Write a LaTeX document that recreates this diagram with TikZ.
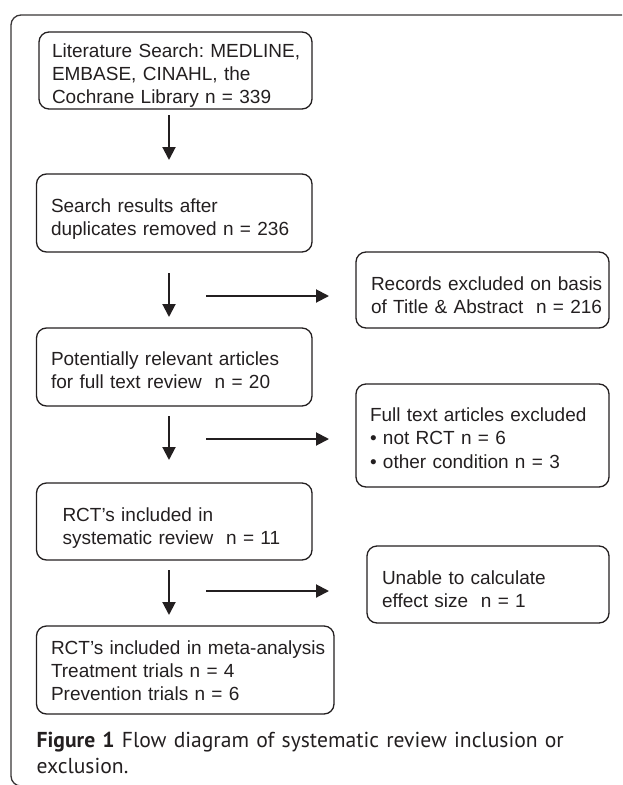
\documentclass[tikz,border=0pt]{standalone}
\usepackage{fontspec}
\setmainfont{Liberation Sans}
\newfontfamily\captionfont{PT Sans}
\usetikzlibrary{arrows.meta}
\frenchspacing

\definecolor{inkgray}{HTML}{231F20}

\tikzset{
  flowbox/.style={draw=inkgray, line width=1.3pt, rounded corners=10pt,
    anchor=north west, align=left, inner xsep=0pt, inner ysep=0pt, outer sep=0pt,
    font=\fontsize{19}{23.3}\selectfont, text=inkgray},
  textindent/.style={execute at begin node={\leftskip=#1}},
  rows/.style 2 args={text height=#1, text depth=#2},
  flowarrow/.style={draw=inkgray, line width=2pt,
    -{Triangle[length=13pt,width=13pt]}}
}

\begin{document}
\begin{tikzpicture}[x=1pt, y=-1pt]
  \useasboundingbox (0,0) rectangle (622,785);

  % outer frame, cut by the page edge
  \begin{scope}
    \clip (0,0) rectangle (622,785);
    \draw[inkgray!90, line width=1.3pt, rounded corners=10pt] (11,15) rectangle (660,786);
  \end{scope}

  % main column
  \node[flowbox, textindent=13pt, text width=273pt, rows={25pt}{52pt}] (lit) at (39,32)
    {Literature Search: MEDLINE,\\EMBASE, CINAHL, the\\Cochrane Library n = 339};
  \node[flowbox, textindent=14.5pt, text width=275.5pt, rows={38.5pt}{39.5pt}] (dedup) at (36.5,174)
    {Search results after\\duplicates removed n = 236};
  \node[flowbox, textindent=14.5pt, text width=275.5pt, rows={37.5pt}{40.5pt}] (relevant) at (36.5,328)
    {Potentially relevant articles\\for full text review~ n = 20};
  \node[flowbox, textindent=26pt, text width=275.5pt, rows={38.5pt}{38.5pt}] (included) at (36.5,483)
    {RCT’s included in\\systematic review~ n = 11};
  \node[flowbox, textindent=14.5pt, text width=297.5pt, rows={28pt}{60pt}] (meta) at (36.5,626)
    {RCT’s included in meta-analysis\\Treatment trials n = 4\\Prevention trials n = 6};

  % excluded
  \node[flowbox, textindent=15pt, text width=253pt, rows={38pt}{38pt}] (recx) at (356,252)
    {Records excluded on basis\\of Title \& Abstract~ n = 216};
  \node[flowbox, textindent=14pt, text width=253pt, rows={37.5pt}{65.5pt}] (fullx) at (356,384)
    {Full text articles excluded\\• not RCT n = 6\\• other condition n = 3};
  \node[flowbox, textindent=15pt, text width=242pt, rows={38.5pt}{38.5pt}] (effx) at (367,546)
    {Unable to calculate\\effect size~ n = 1};

  % down arrows
  \coordinate (stem) at (169,0);
  \draw[flowarrow, shorten <=6pt, shorten >=14pt] (lit.south -| stem) -- (dedup.north -| stem);
  \draw[flowarrow, shorten <=21pt, shorten >=11pt] (dedup.south -| stem) -- (relevant.north -| stem);
  \draw[flowarrow, shorten <=10pt, shorten >=23pt] (relevant.south -| stem) -- (included.north -| stem);
  \draw[flowarrow, shorten <=10pt, shorten >=11pt] (included.south -| stem) -- (meta.north -| stem);

  % side arrows
  \coordinate (side1) at (206,296);
  \draw[flowarrow, shorten >=27pt] (side1) -- (side1 -| recx.west);
  \coordinate (side2) at (206,439);
  \draw[flowarrow, shorten >=27pt] (side2) -- (side2 -| fullx.west);
  \coordinate (side3) at (206,591);
  \draw[flowarrow, shorten >=38pt] (side3) -- (side3 -| effx.west);

  % caption
  \node[anchor=north west, align=left, inner sep=0pt, text=inkgray, text width=580pt,
    text height=19.5pt, font=\captionfont\fontsize{21.6}{26}\selectfont] (caption) at (36.5,727.5)
    {\textbf{Figure 1} Flow diagram of systematic review inclusion or\\exclusion.};
\end{tikzpicture}
\end{document}
